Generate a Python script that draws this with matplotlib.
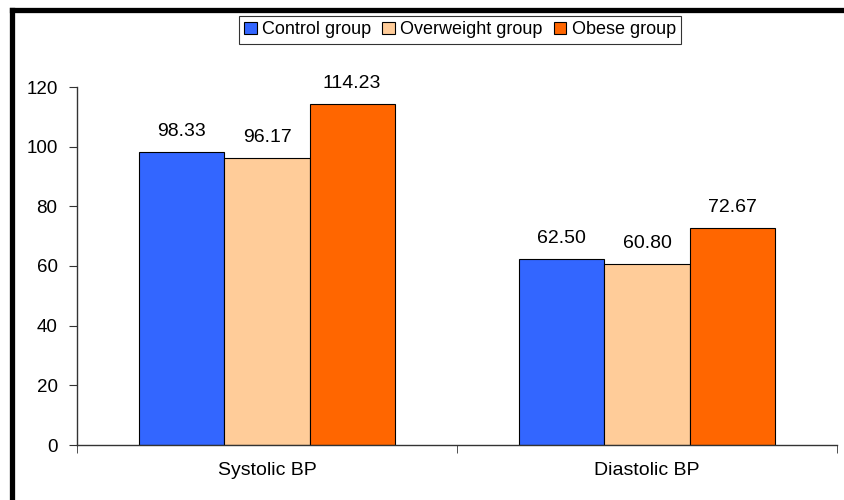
import numpy as np
import matplotlib
matplotlib.use("Agg")
import matplotlib.pyplot as plt
from matplotlib.lines import Line2D

categories = ["Systolic BP", "Diastolic BP"]
groups = ["Control group", "Overweight group", "Obese group"]
control = [98.33, 62.50]
overweight = [96.17, 60.80]
obese = [114.23, 72.67]
colors = ["#3366FF", "#FFCC99", "#FF6600"]

plt.rcParams['font.family'] = ['Liberation Sans', 'DejaVu Sans']

fig = plt.figure(figsize=(8.44, 5), dpi=100)
ax = fig.add_axes([77/844, 1-445/500, 760/844, (445-87)/500])

x = np.arange(len(categories))
w = 0.224
series = [control, overweight, obese]
for i, (vals, name, c) in enumerate(zip(series, groups, colors)):
    bars = ax.bar(x + (i-1)*w, vals, w, color=c, edgecolor="black",
                  linewidth=0.8, label=name)
    for b, v in zip(bars, vals):
        ax.text(b.get_x() + b.get_width()/2, v + 4, "%.2f" % v,
                ha="center", va="bottom", fontsize=14)

ax.set_xlim(-0.5, 1.5)
ax.set_ylim(0, 120)
ax.set_yticks(range(0, 121, 20))
ax.tick_params(axis="y", labelsize=13.5, length=6, pad=8, direction="out", color="#333333")
ax.set_xticks(x)
ax.set_xticklabels(categories, fontsize=14)
ax.tick_params(axis="x", which="major", length=0, pad=12)
ax.set_xticks([-0.5, 0.5, 1.5], minor=True)
ax.tick_params(axis="x", which="minor", length=6, color="#333333")

for s in ["top", "right"]:
    ax.spines[s].set_visible(False)
for s in ["left", "bottom"]:
    ax.spines[s].set_color("#333333")
    ax.spines[s].set_linewidth(1.0)

leg = fig.legend(loc="upper center", bbox_to_anchor=(460/844, 1-16/500), ncol=3,
                 fontsize=13, frameon=True, fancybox=False, edgecolor="black",
                 handlelength=0.7, handleheight=0.7, handletextpad=0.3,
                 columnspacing=0.6, borderpad=0.3, borderaxespad=0)
leg.get_frame().set_linewidth(0.8)

# thick frame lines at top and left
fig.add_artist(Line2D([12/844, 1], [1-10/500, 1-10/500], color="black", lw=3.8,
                      transform=fig.transFigure))
fig.add_artist(Line2D([12/844, 12/844], [0, 1-10/500], color="black", lw=3.8,
                      transform=fig.transFigure))

fig.savefig("out.png", dpi=100)
